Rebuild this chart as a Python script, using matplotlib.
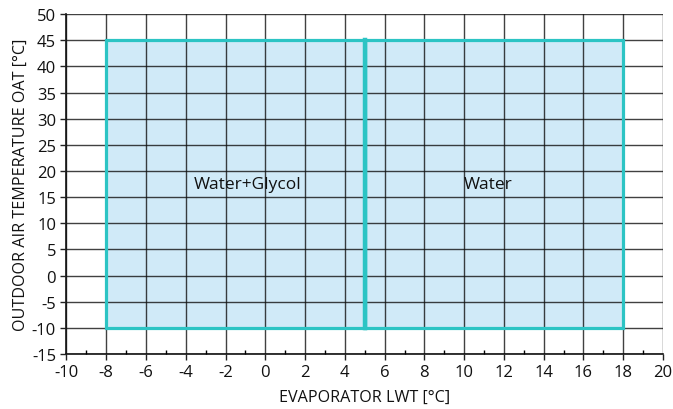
import matplotlib
matplotlib.use("Agg")
import matplotlib.pyplot as plt
from matplotlib.patches import Rectangle

plt.rcParams["font.family"] = ["Open Sans", "DejaVu Sans"]

# operating envelopes
zone_names = ["Water+Glycol", "Water"]
lwt_min = [-8, 5]
lwt_max = [5, 18]
oat_min = [-10, -10]
oat_max = [45, 45]
label_x = [-0.9, 11.2]
label_y = [17.5, 17.5]

x_ticks = list(range(-10, 21, 2))
y_ticks = list(range(-15, 51, 5))

fig = plt.figure(figsize=(6.73, 4.10), dpi=100)
ax = fig.add_axes([0.0988, 0.134, 0.8864, 0.829])

for name, x0, x1, y0, y1, tx, ty in zip(zone_names, lwt_min, lwt_max,
                                        oat_min, oat_max, label_x, label_y):
    ax.add_patch(Rectangle((x0, y0), x1 - x0, y1 - y0, facecolor="#d0eaf8",
                           edgecolor="none", zorder=1))
    ax.add_patch(Rectangle((x0, y0), x1 - x0, y1 - y0, facecolor="none",
                           edgecolor="#2cc4c4", linewidth=2.3, zorder=3))
    ax.text(tx, ty, name, ha="center", va="center",
            fontsize=12.5, color="#111111", zorder=4)
# shared border between the two zones is drawn heavier
ax.plot([lwt_max[0], lwt_max[0]], [oat_min[0], oat_max[0]], color="#2cc4c4",
        linewidth=3.2, zorder=3)

ax.set_xlim(-10, 20)
ax.set_ylim(-15, 50)
ax.set_xticks(x_ticks)
ax.set_yticks(y_ticks)
ax.set_xticks(range(-9, 20, 2), minor=True)
ax.set_xticklabels([str(v) for v in x_ticks])
ax.set_yticklabels([str(v) for v in y_ticks])
ax.tick_params(axis="both", labelsize=12, length=4, width=1, color="#222222",
               labelcolor="#111111")
ax.tick_params(axis="x", which="minor", direction="in", length=3, width=1)
ax.grid(True, color="#111111", linewidth=1, alpha=0.8, zorder=2)
ax.set_axisbelow(False)
for side in ["top", "right"]:
    ax.spines[side].set_visible(False)
for side in ["left", "bottom"]:
    ax.spines[side].set_linewidth(1.2)
    ax.spines[side].set_color("#111111")

ax.set_xlabel("EVAPORATOR LWT [°C]", fontsize=11.6, labelpad=6, color="#111111")
ax.set_ylabel("OUTDOOR AIR TEMPERATURE OAT [°C]", fontsize=11.6, labelpad=2,
              color="#111111")

fig.savefig("out.png", dpi=100)
